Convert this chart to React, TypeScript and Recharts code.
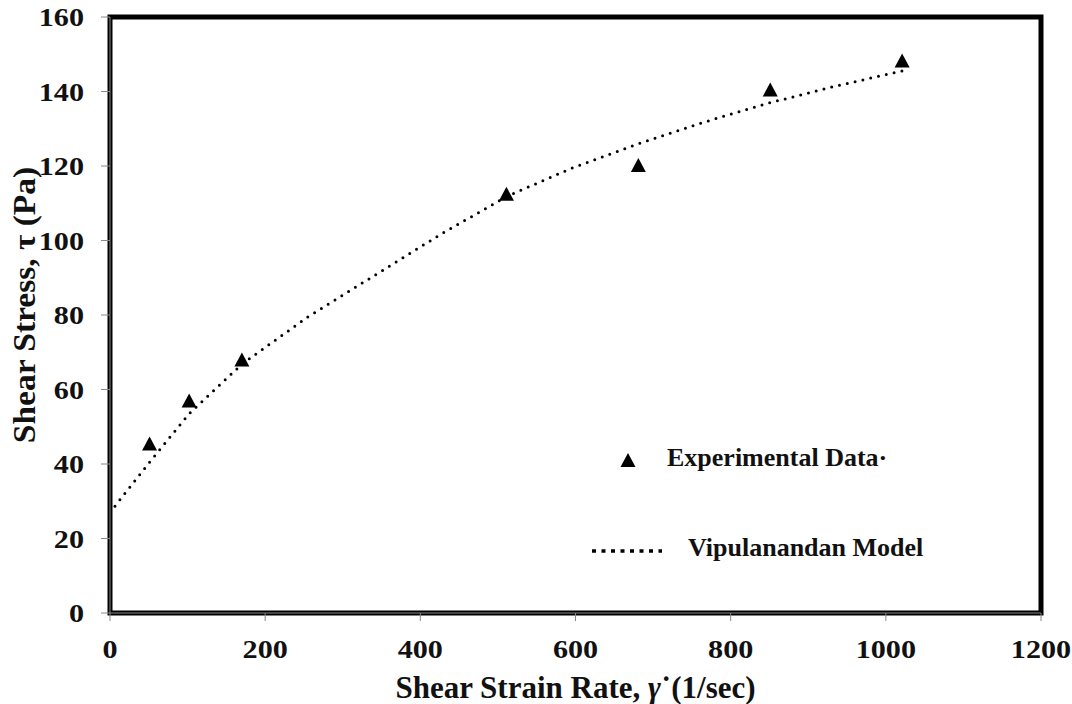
import React from 'react';
import { ComposedChart, Line, Scatter, XAxis, YAxis, ReferenceArea, Legend } from 'recharts';

// experimental points
const expRate = [51, 102, 170, 511, 681, 851, 1021];
const expStress = [45, 56.5, 67.5, 112, 119.7, 140, 147.8];

// model curve
const modelRate = [0, 51, 102, 170, 255, 340, 425, 511, 596, 681, 766, 851, 936, 1021];
const modelStress = [27, 40.5, 53.5, 66.8, 79.5, 90.5, 101.5, 111.8, 119.5, 126, 131.8, 137, 141.5, 145.5];

const xTicks = [0, 200, 400, 600, 800, 1000, 1200];
const yTicks = [0, 20, 40, 60, 80, 100, 120, 140, 160];

const expData = expRate.map((x, i) => ({ x, y: expStress[i] }));
const modelData = modelRate.map((x, i) => ({ x, y: modelStress[i] }));

const font = '"Liberation Serif", "Times New Roman", serif';

const Tri = (props: any) => {
  const { cx, cy } = props;
  if (cx == null || cy == null) return null;
  return <path d={`M${cx},${cy - 9} L${cx + 7.5},${cy + 5} L${cx - 7.5},${cy + 5} Z`} fill="#000" />;
};

// reference digits are a bit wider than Liberation Serif, so stretch them
const XTick = ({ x, payload }: any) => (
  <text transform={`translate(${x},658) scale(1.16,1)`} textAnchor="middle" fontFamily={font} fontWeight="bold" fontSize={26} fill="#111">
    {payload.value}
  </text>
);

const YTick = ({ y, payload }: any) => (
  <text transform={`translate(84,${y + 9}) scale(1.16,1)`} textAnchor="end" fontFamily={font} fontWeight="bold" fontSize={26} fill="#111">
    {payload.value}
  </text>
);

const XLabel = ({ viewBox }: any) => {
  const cx = viewBox.x + viewBox.width / 2;
  return (
    <text x={cx} y={698} textAnchor="middle" fontFamily={font} fontWeight="bold" fontSize={31} fill="#111">
      Shear Strain Rate, <tspan fontStyle="italic">γ</tspan>˙(1/sec)
    </text>
  );
};

const YLabel = ({ viewBox }: any) => {
  const cy = viewBox.y + viewBox.height / 2 - 10;
  return (
    <text transform={`translate(35,${cy}) rotate(-90) scale(1.08,1)`} textAnchor="middle" fontFamily={font} fontWeight="bold" fontSize={31} fill="#111">
      Shear Stress, τ (Pa)
    </text>
  );
};

const LegendBox = () => (
  <div style={{ fontFamily: font, fontWeight: 'bold', fontSize: 26, lineHeight: '26px', color: '#111', position: 'relative', width: 420, height: 130 }}>
    <svg width={16} height={15} style={{ position: 'absolute', left: 40, top: 10 }}>
      <path d="M8,0 L15.5,14 L0.5,14 Z" fill="#000" />
    </svg>
    <div style={{ position: 'absolute', left: 87, top: 2, whiteSpace: 'nowrap' }}>Experimental Data·</div>
    <svg width={80} height={10} style={{ position: 'absolute', left: 10, top: 103 }}>
      <line x1={2} y1={5} x2={72} y2={5} stroke="#000" strokeWidth={3.5} strokeDasharray="4 5.5" />
    </svg>
    <div style={{ position: 'absolute', left: 108, top: 92, whiteSpace: 'nowrap' }}>Vipulanandan Model</div>
  </div>
);

export default function App() {
  return (
    <div style={{ position: 'absolute', left: 0, top: 0, background: '#fff' }}>
      <ComposedChart width={1072} height={704} margin={{ top: 17, right: 31, bottom: 0, left: 0 }}>
        <XAxis
          type="number"
          dataKey="x"
          domain={[0, 1200]}
          ticks={xTicks}
          interval={0}
          height={91}
          tickSize={8}
          axisLine={{ stroke: '#888', strokeWidth: 1 }}
          tickLine={{ stroke: '#888' }}
          tick={<XTick />}
          label={<XLabel />}
        />
        <YAxis
          type="number"
          dataKey="y"
          domain={[0, 160]}
          ticks={yTicks}
          interval={0}
          width={110}
          tickSize={9}
          axisLine={{ stroke: '#888', strokeWidth: 1 }}
          tickLine={{ stroke: '#888' }}
          tick={<YTick />}
          label={<YLabel />}
        />
        <ReferenceArea x1={0} x2={1200} y1={0} y2={160} fill="none" stroke="#000" strokeWidth={5} ifOverflow="visible" />
        <Line
          data={modelData}
          dataKey="y"
          type="linear"
          stroke="#000"
          strokeWidth={3}
          strokeDasharray="0 8"
          strokeLinecap="round"
          dot={false}
          activeDot={false}
          isAnimationActive={false}
        />
        <Scatter data={expData} dataKey="y" shape={<Tri />} isAnimationActive={false} />
        <Legend
          layout="vertical"
          align="center"
          verticalAlign="middle"
          content={<LegendBox />}
          wrapperStyle={{ position: 'absolute', left: 580, top: 443, width: 420 }}
        />
      </ComposedChart>
    </div>
  );
}
